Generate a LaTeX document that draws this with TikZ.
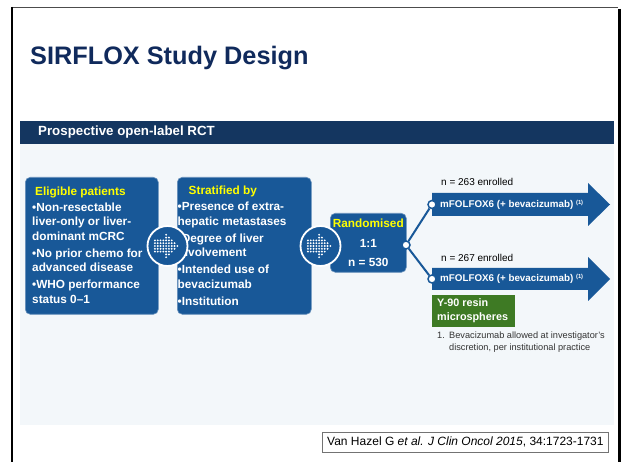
\documentclass[tikz,border=0pt]{standalone}
\usepackage{fontspec}
\setmainfont{Liberation Sans}
\begin{document}
\begin{tikzpicture}[x=1pt,y=-1pt]
\definecolor{boxblue}{RGB}{24,88,152}
\definecolor{bandnavy}{RGB}{20,54,96}
\definecolor{titlenavy}{RGB}{16,42,92}
\definecolor{panelbg}{RGB}{243,247,250}
\definecolor{hilite}{RGB}{255,255,0}
\definecolor{resin}{RGB}{62,122,36}
\tikzset{
  bluebox/.style={rounded corners=5pt, fill=boxblue, draw=boxblue!65!white,
    line width=0.6pt, inner sep=0pt, anchor=north west},
  boxtext/.style={align=left, text=white, inner sep=0pt, anchor=west,
    font=\fontsize{11.8}{14.5}\selectfont\bfseries},
  hubcircle/.style={circle, fill=boxblue, draw=white, line width=1.8pt,
    minimum size=40pt, inner sep=0pt},
  joint/.style={circle, fill=white, draw=boxblue, line width=1.5pt,
    minimum size=8pt, inner sep=0pt},
  link/.style={draw=boxblue, line width=2pt},
  armtext/.style={text=white, inner sep=0pt, anchor=west,
    font=\fontsize{9.8}{11}\selectfont\bfseries},
  counttext/.style={text=black, inner sep=0pt, anchor=west,
    font=\fontsize{10}{12}\selectfont},
}
% dotted arrow glyph inside a hub circle
\newcommand{\dotarrow}[1]{%
  \begin{scope}[shift={(#1)}]
    \foreach \cx in {-12.6,-9.8,-7,-4.2}
      \foreach \cy in {-5.6,-2.8,0,2.8,5.6}
        \fill[white] (\cx,\cy) circle (1.05pt);
    \foreach \cx/\ny in {-1.4/4,1.4/3,4.2/2,7/1,9.8/0}
      \foreach \k in {-\ny,...,\ny}
        \fill[white] (\cx,{2.8*\k}) circle (1.05pt);
  \end{scope}}

\useasboundingbox (0,0) rectangle (621,462);
\fill[white] (0,0) rectangle (621,462);

% slide frame
\draw[line width=1.5pt, black!70] (11,7.5) -- (618,7.5);
\draw[line width=2pt] (12,7) -- (12,462);
\draw[line width=3pt] (619.5,9) -- (619.5,462);

% title and band
\node[anchor=base west, inner sep=0pt, text=titlenavy,
  font=\fontsize{25.3}{30}\selectfont\bfseries] (title) at (30,65) {SIRFLOX Study Design};
\node[fill=bandnavy, minimum width=594pt, minimum height=23pt, inner sep=0pt,
  anchor=north west] (band) at (20,121) {};
\node[anchor=west, inner sep=0pt, text=white,
  font=\fontsize{13.3}{15}\selectfont\bfseries] (bandtext) at (38,132.5) {Prospective open-label RCT};

% light panel
\fill[panelbg] (20,144) rectangle (614,425);

% eligibility box
\node[bluebox, minimum width=133pt, minimum height=137pt] (elig) at (25,177) {};
\node[boxtext] (eligtext) at (32,245) {%
  {\color{hilite}\hspace*{3pt}Eligible patients}\\[1.5pt]
  •Non-resectable\\ liver-only or liver-\\ dominant mCRC\\[2.5pt]
  •No prior chemo for\\ advanced disease\\[2.5pt]
  •WHO performance\\ status 0–1};

% stratification box
\node[bluebox, minimum width=134pt, minimum height=137pt] (strat) at (177,177) {};
\node[boxtext] (strattext) at (177.5,246) {%
  {\color{hilite}\hspace*{11pt}Stratified by}\\[1.5pt]
  •Presence of extra-\\ hepatic metastases\\[2.5pt]
  •Degree of liver\\ involvement\\[2.5pt]
  •Intended use of\\ bevacizumab\\[2.5pt]
  •Institution};

% randomisation box
\node[bluebox, minimum width=76pt, minimum height=59pt] (rand) at (330,213) {};
\node[boxtext, align=center, anchor=center,
  font=\fontsize{11.8}{14.5}\selectfont\bfseries] (randtext) at (rand.center) {%
  {\color{hilite}Randomised}\\[5pt] 1:1\\[5pt] n = 530};

% hub circles between the boxes
\node[hubcircle] (hubA) at (167.5,246) {};
\dotarrow{hubA}
\node[hubcircle] (hubB) at (320.5,246) {};
\dotarrow{hubB}

% treatment arms
\fill[boxblue] (432,193) -- (588,193) -- (588,183) -- (610,204.5)
  -- (588,226) -- (588,216) -- (432,216) -- cycle;
\fill[boxblue] (432,268) -- (588,268) -- (588,257) -- (610,279)
  -- (588,301) -- (588,290) -- (432,290) -- cycle;
\node[armtext] (armAtext) at (440,204.5) {mFOLFOX6 (+ bevacizumab) \raisebox{3pt}{\fontsize{5.8}{6}\selectfont(1)}};
\node[armtext] (armBtext) at (440,279) {mFOLFOX6 (+ bevacizumab) \raisebox{3pt}{\fontsize{5.8}{6}\selectfont(1)}};
\node[counttext] (countA) at (441,182) {n = 263 enrolled};
\node[counttext] (countB) at (441,257.5) {n = 267 enrolled};

% branching connectors
\node[joint] (jrand) at (406,245) {};
\node[joint] (jarmA) at (432,204.5) {};
\node[joint] (jarmB) at (432,279) {};
\draw[link] (jrand) -- (jarmA);
\draw[link] (jrand) -- (jarmB);

% radioembolisation add-on
\node[fill=resin, minimum width=83pt, minimum height=32pt, inner sep=0pt,
  anchor=north west] (resinbox) at (432,295) {};
\node[boxtext, font=\fontsize{10.8}{14}\selectfont\bfseries] (resintext) at (437,311) {Y-90 resin\\ microspheres};

% footnote
\node[anchor=north west, align=left, inner sep=0pt, text=black!80,
  font=\fontsize{9.2}{12}\selectfont] (note) at (437,331.5) {%
  \makebox[12pt][l]{1.}Bevacizumab allowed at investigator’s\\
  \hspace*{12pt}discretion, per institutional practice};

% reference box
\node[draw=black!55, line width=0.8pt, fill=white, minimum width=286pt,
  minimum height=20pt, inner sep=0pt, anchor=north west,
  font=\fontsize{12}{13}\selectfont] (cite) at (322,432)
  {Van Hazel G \textit{et al. J Clin Oncol 2015}, 34:1723-1731};
\end{tikzpicture}
\end{document}
